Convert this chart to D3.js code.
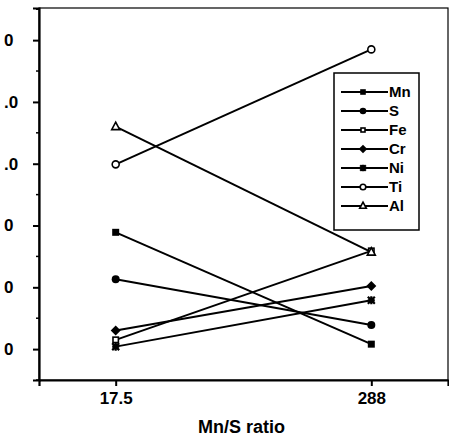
<!DOCTYPE html>
<html>
<head>
<meta charset="utf-8">
<script src="https://cdn.jsdelivr.net/npm/d3@7"></script>
<style>
  html, body { margin: 0; padding: 0; background: #fff; }
  svg { display: block; font-family: "Liberation Sans", Arial, sans-serif; }
</style>
</head>
<body>
<svg id="chart" width="449" height="444"></svg>
<script>
// Mn/S ratio categories
const ratios = ["17.5", "288"];
// element series, in legend order
const elements = ["Mn", "S", "Fe", "Cr", "Ni", "Ti", "Al"];
const mnValues = [1.89, 0.08];
const sValues  = [1.13, 0.39];
const feValues = [0.15, 1.59];
const crValues = [0.30, 1.02];
const niValues = [0.04, 0.79];
const tiValues = [2.99, 4.85];
const alValues = [3.60, 1.57];
// y tick values and their printed labels
const yTicks = [0, 1, 2, 3, 4, 5];
const yTickLabels = ["0", "0", "0", ".0", ".0", "0"];
const xLabel = "Mn/S ratio";

const seriesValues = [mnValues, sValues, feValues, crValues, niValues, tiValues, alValues];
const markerKinds = ["squareFill", "circleFill", "squareOpen", "diamond", "star", "circleOpen", "triangleOpen"];

const svg = d3.select("#chart");
const frame = { left: 39, right: 448, top: 8, bottom: 380 };

const x = d3.scalePoint().domain(ratios).range([frame.left, frame.right]).padding(0.3);
const y = d3.scaleLinear().domain([-0.5, 5.52]).range([frame.bottom, frame.top]);

// frame
svg.append("rect")
  .attr("x", frame.left).attr("y", frame.top)
  .attr("width", frame.right - frame.left).attr("height", frame.bottom - frame.top)
  .attr("fill", "none").attr("stroke", "#000").attr("stroke-width", 1.2);

// left axis
const yAxis = svg.append("g").attr("transform", `translate(${frame.left},0)`)
  .call(d3.axisLeft(y).tickValues(yTicks).tickSize(6).tickPadding(29)
    .tickFormat((d, i) => yTickLabels[i]));
yAxis.select(".domain").attr("stroke-width", 2.2);
yAxis.selectAll(".tick line").attr("stroke-width", 2);
yAxis.selectAll("text").attr("text-anchor", "start")
  .attr("font-size", 17).attr("font-weight", "bold").attr("fill", "#000");
// minor ticks
svg.append("g").selectAll("line")
  .data(d3.range(-0.5, 5.51, 1))
  .join("line")
  .attr("x1", frame.left - 3).attr("x2", frame.left)
  .attr("y1", d => y(d)).attr("y2", d => y(d))
  .attr("stroke", "#000").attr("stroke-width", 1.5);

// bottom axis
const xAxis = svg.append("g").attr("transform", `translate(0,${frame.bottom})`)
  .call(d3.axisBottom(x).tickSize(6).tickPadding(6));
xAxis.select(".domain").attr("stroke-width", 2.2);
xAxis.selectAll(".tick line").attr("stroke-width", 2);
xAxis.selectAll("text").attr("font-size", 17).attr("font-weight", "bold").attr("fill", "#000");

svg.append("text")
  .attr("x", (frame.left + frame.right) / 2 - 2).attr("y", 433)
  .attr("text-anchor", "middle").attr("font-size", 18).attr("font-weight", "bold")
  .text(xLabel);

// marker drawing
function drawMarker(g, kind, cx, cy, s) {
  switch (kind) {
    case "squareFill":
      g.append("rect").attr("x", cx - s).attr("y", cy - s).attr("width", 2 * s).attr("height", 2 * s).attr("fill", "#000");
      break;
    case "squareOpen":
      g.append("rect").attr("x", cx - s + 0.8).attr("y", cy - s + 0.8).attr("width", 2 * s - 1.6).attr("height", 2 * s - 1.6)
        .attr("fill", "#fff").attr("stroke", "#000").attr("stroke-width", 1.6);
      break;
    case "circleFill":
      g.append("circle").attr("cx", cx).attr("cy", cy).attr("r", s + 0.5).attr("fill", "#000");
      break;
    case "circleOpen":
      g.append("circle").attr("cx", cx).attr("cy", cy).attr("r", s).attr("fill", "#fff").attr("stroke", "#000").attr("stroke-width", 1.6);
      break;
    case "diamond":
      g.append("path").attr("d", `M${cx},${cy - s - 1.5}L${cx + s + 1.5},${cy}L${cx},${cy + s + 1.5}L${cx - s - 1.5},${cy}Z`).attr("fill", "#000");
      break;
    case "star":
      g.append("path")
        .attr("d", `M${cx - s},${cy - s}L${cx + s},${cy + s}M${cx + s},${cy - s}L${cx - s},${cy + s}M${cx},${cy - s - 0.5}L${cx},${cy + s + 0.5}M${cx - s},${cy}L${cx + s},${cy}`)
        .attr("stroke", "#000").attr("stroke-width", 2.2).attr("fill", "none");
      break;
    case "triangleOpen":
      g.append("path").attr("d", `M${cx},${cy - s - 1}L${cx + s + 0.5},${cy + s - 0.5}L${cx - s - 0.5},${cy + s - 0.5}Z`)
        .attr("fill", "#fff").attr("stroke", "#000").attr("stroke-width", 1.6);
      break;
  }
}

// series lines
const line = d3.line().x((d, i) => x(ratios[i])).y(d => y(d));
const plot = svg.append("g");
seriesValues.forEach(vals => {
  plot.append("path").datum(vals).attr("d", line)
    .attr("fill", "none").attr("stroke", "#000").attr("stroke-width", 2);
});
seriesValues.forEach((vals, k) => {
  vals.forEach((v, i) => drawMarker(plot, markerKinds[k], x(ratios[i]), y(v), 3.5));
});

// legend
const legend = svg.append("g");
const lg = { x: 334, y: 73, w: 85, rowH: 19, top: 92 };
legend.append("rect")
  .attr("x", lg.x).attr("y", lg.y).attr("width", lg.w).attr("height", 157)
  .attr("fill", "#fff").attr("stroke", "#000").attr("stroke-width", 1.5);
elements.forEach((name, k) => {
  const ry = lg.top + k * lg.rowH;
  legend.append("line").attr("x1", 341).attr("x2", 388).attr("y1", ry).attr("y2", ry)
    .attr("stroke", "#000").attr("stroke-width", 2);
  drawMarker(legend, markerKinds[k], 363, ry, 2.8);
  legend.append("text").attr("x", 389).attr("y", ry).attr("dy", "0.36em")
    .attr("font-size", 15).attr("font-weight", "bold").text(name);
});
</script>
</body>
</html>
